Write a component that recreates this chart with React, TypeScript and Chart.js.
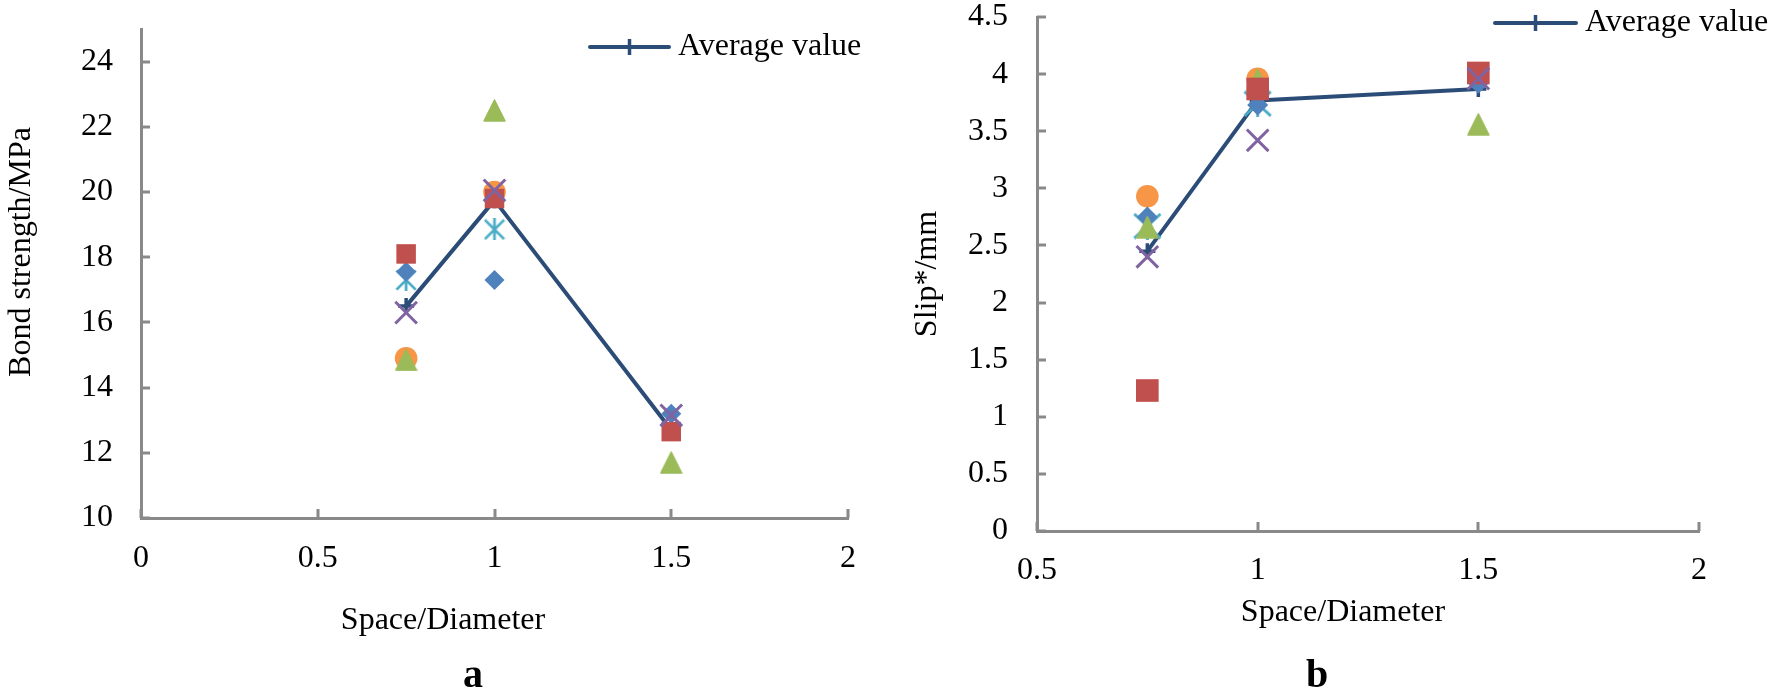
import React, { useEffect, useRef } from "react";
import { Chart, registerables } from "chart.js";

Chart.register(...registerables);

// ---------------- data ----------------
const SPACING = [0.75, 1, 1.5];

// Panel a: bond strength (MPa)
const BOND_DIAMOND = [17.55, 17.3, 13.2];
const BOND_SQUARE = [18.1, 19.8, 12.65];
const BOND_TRIANGLE = [14.85, 22.5, 11.7];
const BOND_XMARK = [16.3, 20.05, 13.15];
const BOND_STAR = [17.3, 18.85];
const BOND_CIRCLE = [14.9, 20.0];
const BOND_AVERAGE = [16.5, 19.75, 12.7];

// Panel b: slip (mm)
const SLIP_DIAMOND = [2.75, 3.73, 3.92];
const SLIP_SQUARE = [1.23, 3.87, 4.01];
const SLIP_TRIANGLE = [2.66, 3.95, 3.56];
const SLIP_XMARK = [2.4, 3.42, 3.96];
const SLIP_STAR = [2.67, 3.74];
const SLIP_CIRCLE = [2.93, 3.96];
const SLIP_AVERAGE = [2.45, 3.77, 3.87];

const BOND_X_TICKS = [0, 0.5, 1, 1.5, 2];
const BOND_Y_TICKS = [10, 12, 14, 16, 18, 20, 22, 24];
const SLIP_X_TICKS = [0.5, 1, 1.5, 2];
const SLIP_Y_TICKS = [0, 0.5, 1, 1.5, 2, 2.5, 3, 3.5, 4, 4.5];

const LEGEND_LABEL = "Average value";
const X_TITLE = "Space/Diameter";
const BOND_Y_TITLE = "Bond strength/MPa";
const SLIP_Y_TITLE = "Slip*/mm";

// ---------------- styles ----------------
const FONT = '"Liberation Serif", "Times New Roman", serif';
const AXIS_COLOR = "#898989";
const NAVY = "#2B4C77";
const C_DIAMOND = "#4F81BD";
const C_SQUARE = "#C0504D";
const C_TRIANGLE = "#9BBB59";
const C_XMARK = "#8064A2";
const C_STAR = "#4BACC6";
const C_CIRCLE = "#F79646";
const TICK_LEN = 9;

type PanelCfg = {
  offsetX: number;
  width: number;
  height: number;
  area: { left: number; right: number; top: number; bottom: number };
  xMin: number;
  xMax: number;
  yMin: number;
  yMax: number;
  xTicks: number[];
  yTicks: number[];
  yLabelRight: number;
  xLabelPad: number;
  series: {
    diamond: number[];
    square: number[];
    triangle: number[];
    xmark: number[];
    star: number[];
    circle: number[];
    average: number[];
  };
  sizes: { square: number; circle: number; diamond: number; xmark: number; starW: number; starH: number };
  yTitle: { text: string; x: number; y: number };
  xTitle: { x: number; y: number };
  letter: { text: string; x: number; y: number };
  legend: { x1: number; x2: number; y: number; textX: number };
};

const PANEL_A: PanelCfg = {
  offsetX: 0,
  width: 880,
  height: 695,
  area: { left: 141, right: 848, top: 29, bottom: 518 },
  xMin: 0,
  xMax: 2,
  yMin: 10,
  yMax: 25,
  xTicks: BOND_X_TICKS,
  yTicks: BOND_Y_TICKS,
  yLabelRight: 113,
  xLabelPad: 25,
  series: {
    diamond: BOND_DIAMOND,
    square: BOND_SQUARE,
    triangle: BOND_TRIANGLE,
    xmark: BOND_XMARK,
    star: BOND_STAR,
    circle: BOND_CIRCLE,
    average: BOND_AVERAGE,
  },
  sizes: { square: 13.8, circle: 11.3, diamond: 10, xmark: 15.3, starW: 22, starH: 22 },
  yTitle: { text: BOND_Y_TITLE, x: 22, y: 252 },
  xTitle: { x: 443, y: 621 },
  letter: { text: "a", x: 473, y: 677 },
  legend: { x1: 590, x2: 669, y: 47, textX: 678 },
};

const PANEL_B: PanelCfg = {
  offsetX: 880,
  width: 893,
  height: 695,
  area: { left: 157, right: 819, top: 17, bottom: 531 },
  xMin: 0.5,
  xMax: 2,
  yMin: 0,
  yMax: 4.5,
  xTicks: SLIP_X_TICKS,
  yTicks: SLIP_Y_TICKS,
  yLabelRight: 128,
  xLabelPad: 24,
  series: {
    diamond: SLIP_DIAMOND,
    square: SLIP_SQUARE,
    triangle: SLIP_TRIANGLE,
    xmark: SLIP_XMARK,
    star: SLIP_STAR,
    circle: SLIP_CIRCLE,
    average: SLIP_AVERAGE,
  },
  sizes: { square: 16, circle: 11.3, diamond: 10.5, xmark: 15.3, starW: 29, starH: 27 },
  yTitle: { text: SLIP_Y_TITLE, x: 48, y: 274 },
  xTitle: { x: 463, y: 613 },
  letter: { text: "b", x: 437, y: 677 },
  legend: { x1: 615, x2: 696, y: 23, textX: 705 },
};

// ---------------- helpers ----------------
function pts(vals: number[]) {
  return vals.map((y, i) => ({ x: SPACING[i], y }));
}

function makeTriangle(w: number, h: number, color: string) {
  const c = document.createElement("canvas");
  c.width = w;
  c.height = h;
  const g = c.getContext("2d")!;
  g.fillStyle = color;
  g.strokeStyle = color;
  g.lineJoin = "round";
  g.lineWidth = 1.5;
  g.beginPath();
  g.moveTo(w / 2, 1);
  g.lineTo(w - 1, h - 1);
  g.lineTo(1, h - 1);
  g.closePath();
  g.fill();
  g.stroke();
  return c;
}

function makeStar(w: number, h: number, color: string, lw: number) {
  const c = document.createElement("canvas");
  c.width = w;
  c.height = h;
  const g = c.getContext("2d")!;
  g.strokeStyle = color;
  g.lineWidth = lw;
  const m = lw / 2;
  g.beginPath();
  g.moveTo(m, m);
  g.lineTo(w - m, h - m);
  g.moveTo(w - m, m);
  g.lineTo(m, h - m);
  g.moveTo(w / 2, 0);
  g.lineTo(w / 2, h);
  g.stroke();
  return c;
}

function makeDecor(cfg: PanelCfg) {
  return {
    id: "decor",
    beforeDatasetsDraw(chart: any) {
      const { ctx, chartArea: a, scales } = chart;
      ctx.save();
      ctx.strokeStyle = AXIS_COLOR;
      ctx.lineWidth = 3;
      for (const t of scales.y.ticks) {
        const py = Math.round(scales.y.getPixelForValue(t.value));
        ctx.beginPath();
        ctx.moveTo(a.left, py);
        ctx.lineTo(a.left + TICK_LEN, py);
        ctx.stroke();
      }
      for (const t of scales.x.ticks) {
        const px = Math.round(scales.x.getPixelForValue(t.value));
        ctx.beginPath();
        ctx.moveTo(px, a.bottom);
        ctx.lineTo(px, a.bottom - TICK_LEN);
        ctx.stroke();
      }
      ctx.restore();
    },
    afterDraw(chart: any) {
      const ctx = chart.ctx;
      ctx.save();
      ctx.fillStyle = "#000";
      ctx.textBaseline = "middle";
      ctx.textAlign = "center";
      ctx.font = `32px ${FONT}`;
      // x title
      ctx.fillText(X_TITLE, cfg.xTitle.x, cfg.xTitle.y);
      // y title (rotated)
      ctx.save();
      ctx.translate(cfg.yTitle.x, cfg.yTitle.y);
      ctx.rotate(-Math.PI / 2);
      ctx.fillText(cfg.yTitle.text, 0, 0);
      ctx.restore();
      // panel letter
      ctx.font = `bold 40px ${FONT}`;
      ctx.fillText(cfg.letter.text, cfg.letter.x, cfg.letter.y);
      // legend
      const L = cfg.legend;
      ctx.strokeStyle = NAVY;
      ctx.lineCap = "round";
      ctx.lineWidth = 4;
      ctx.beginPath();
      ctx.moveTo(L.x1, L.y);
      ctx.lineTo(L.x2, L.y);
      ctx.stroke();
      const cx = (L.x1 + L.x2) / 2;
      ctx.lineCap = "butt";
      ctx.lineWidth = 3.5;
      ctx.beginPath();
      ctx.moveTo(cx, L.y - 8);
      ctx.lineTo(cx, L.y + 8);
      ctx.stroke();
      ctx.font = `32px ${FONT}`;
      ctx.textAlign = "left";
      ctx.fillText(LEGEND_LABEL, L.textX, L.y);
      ctx.restore();
    },
  };
}

function zeroPadding(sc: any) {
  sc.paddingTop = 0;
  sc.paddingBottom = 0;
  sc.paddingLeft = 0;
  sc.paddingRight = 0;
}

function buildConfig(cfg: PanelCfg): any {
  const s = cfg.series;
  const z = cfg.sizes;
  const triangleImg = makeTriangle(23, 23, C_TRIANGLE);
  const starImg = makeStar(z.starW, z.starH, C_STAR, 2.75);
  const tickFont = { family: FONT, size: 32, lineHeight: 1 };
  return {
    type: "scatter",
    data: {
      datasets: [
        {
          label: LEGEND_LABEL,
          data: pts(s.average),
          showLine: true,
          borderColor: NAVY,
          borderWidth: 4,
          borderCapStyle: "round",
          borderJoinStyle: "round",
          pointStyle: "cross",
          pointRadius: 8,
          pointHoverRadius: 8,
          pointBorderColor: NAVY,
          pointBackgroundColor: NAVY,
          pointBorderWidth: 3.5,
          order: 7,
        },
        {
          label: "circle",
          data: pts(s.circle),
          pointStyle: "circle",
          pointRadius: z.circle,
          pointHoverRadius: z.circle,
          pointBackgroundColor: C_CIRCLE,
          pointBorderWidth: 0,
          order: 6,
        },
        {
          label: "star",
          data: pts(s.star),
          pointStyle: starImg,
          pointRadius: 11,
          pointHoverRadius: 11,
          order: 5,
        },
        {
          label: "diamond",
          data: pts(s.diamond),
          pointStyle: "rectRot",
          pointRadius: z.diamond,
          pointHoverRadius: z.diamond,
          pointBackgroundColor: C_DIAMOND,
          pointBorderWidth: 0,
          order: 4,
        },
        {
          label: "triangle",
          data: pts(s.triangle),
          pointStyle: triangleImg,
          pointRadius: 11,
          pointHoverRadius: 11,
          order: 3,
        },
        {
          label: "square",
          data: pts(s.square),
          pointStyle: "rect",
          pointRadius: z.square,
          pointHoverRadius: z.square,
          pointBackgroundColor: C_SQUARE,
          pointBorderWidth: 0,
          order: 2,
        },
        {
          label: "xmark",
          data: pts(s.xmark),
          pointStyle: "crossRot",
          pointRadius: z.xmark,
          pointHoverRadius: z.xmark,
          pointBorderColor: C_XMARK,
          pointBackgroundColor: C_XMARK,
          pointBorderWidth: 3,
          order: 1,
        },
      ],
    },
    options: {
      responsive: false,
      animation: false,
      devicePixelRatio: 1,
      events: [],
      layout: {
        autoPadding: false,
        padding: { left: 0, top: cfg.area.top, right: cfg.width - cfg.area.right, bottom: 0 },
      },
      plugins: {
        legend: { display: false },
        tooltip: { enabled: false },
        title: { display: false },
      },
      scales: {
        x: {
          type: "linear",
          position: "bottom",
          min: cfg.xMin,
          max: cfg.xMax,
          afterBuildTicks: (sc: any) => {
            sc.ticks = cfg.xTicks.map((v) => ({ value: v }));
          },
          afterFit: (sc: any) => {
            sc.height = cfg.height - cfg.area.bottom;
            zeroPadding(sc);
          },
          grid: { display: false, drawTicks: false },
          border: { display: true, color: AXIS_COLOR, width: 3 },
          ticks: {
            color: "#000",
            font: tickFont,
            padding: cfg.xLabelPad,
            maxRotation: 0,
            minRotation: 0,
            autoSkip: false,
            callback: (v: any) => String(v),
          },
        },
        y: {
          type: "linear",
          position: "left",
          min: cfg.yMin,
          max: cfg.yMax,
          afterBuildTicks: (sc: any) => {
            sc.ticks = cfg.yTicks.map((v) => ({ value: v }));
          },
          afterFit: (sc: any) => {
            sc.width = cfg.area.left;
            zeroPadding(sc);
          },
          grid: { display: false, drawTicks: false },
          border: { display: true, color: AXIS_COLOR, width: 3 },
          ticks: {
            color: "#000",
            font: tickFont,
            padding: cfg.area.left - cfg.yLabelRight,
            autoSkip: false,
            callback: (v: any) => String(v),
          },
        },
      },
    },
    plugins: [makeDecor(cfg)],
  };
}

function Panel({ cfg }: { cfg: PanelCfg }) {
  const ref = useRef<HTMLCanvasElement | null>(null);
  useEffect(() => {
    if (!ref.current) return;
    const chart = new Chart(ref.current, buildConfig(cfg));
    return () => chart.destroy();
  }, [cfg]);
  return (
    <canvas
      ref={ref}
      width={cfg.width}
      height={cfg.height}
      style={{
        position: "absolute",
        left: cfg.offsetX,
        top: 0,
        width: cfg.width,
        height: cfg.height,
      }}
    />
  );
}

export default function App() {
  return (
    <div
      style={{
        position: "absolute",
        left: 0,
        top: 0,
        width: 1773,
        height: 695,
        background: "#fff",
        overflow: "hidden",
      }}
    >
      <Panel cfg={PANEL_A} />
      <Panel cfg={PANEL_B} />
    </div>
  );
}
